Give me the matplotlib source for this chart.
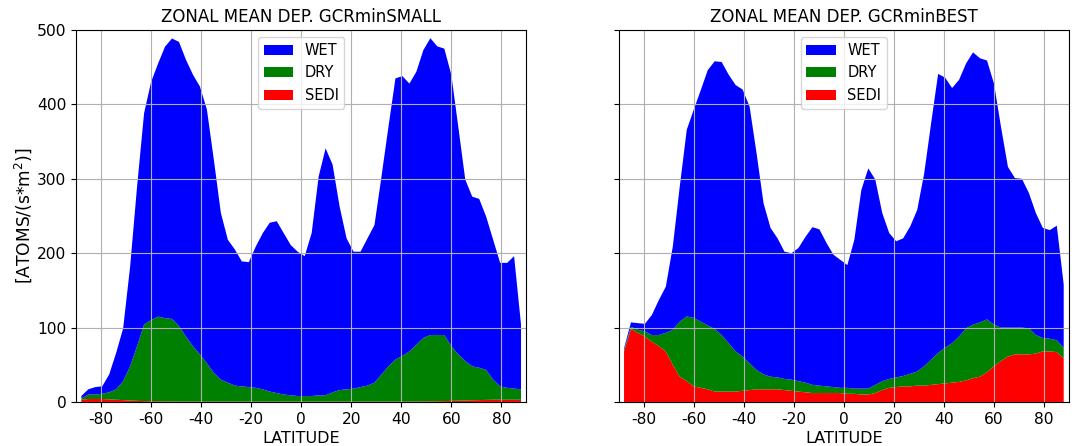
import numpy as np
import matplotlib
matplotlib.use("Agg")
import matplotlib.pyplot as plt

plt.rcParams['axes.unicode_minus'] = False

# Gaussian latitudes of a 64-point grid (south -> north)
lat = np.degrees(np.arcsin(np.polynomial.legendre.leggauss(64)[0]))

# GCRminSMALL
wet_small = [3, 7, 10, 10, 24, 49, 71, 134, 215, 284, 320, 340, 365, 377, 382, 372,
             365, 360, 341, 286, 224, 192, 183, 168, 168, 190, 210, 227, 231, 217, 202, 194,
             188, 219, 294, 332, 306, 247, 203, 184, 182, 198, 212, 266, 322, 378, 376, 360,
             367, 387, 399, 388, 385, 365, 306, 244, 228, 227, 206, 188, 166, 168, 178, 87]
dry_small = [2, 6, 6, 7, 9.5, 14, 25.5, 46, 73.5, 103, 109, 114, 112, 111, 101.5, 87.5,
             74.5, 63.5, 51.5, 38.5, 29.5, 25.5, 21.5, 20.5, 19.5, 18.5, 16.5, 13.5, 11.5, 9.5, 8.5, 7.5,
             7.5, 7.5, 8.5, 8.5, 12.5, 15.5, 16.5, 17.5, 19.5, 21.5, 25.5, 36.5, 47.5, 56.5, 61.5, 67.5,
             76.4, 85.3, 89.2, 89, 88.8, 73.5, 62.2, 53, 45.7, 43.5, 40.2, 27, 18, 16, 15, 14]
sedi_small = [3, 4, 4, 4, 3.5, 3, 2.5, 2, 1.5, 1.2, 1, 0.8, 0.7, 0.6, 0.5, 0.5,
              0.5, 0.5, 0.5, 0.5, 0.5, 0.5, 0.5, 0.5, 0.5, 0.5, 0.5, 0.5, 0.5, 0.5, 0.5, 0.5,
              0.5, 0.5, 0.5, 0.5, 0.5, 0.5, 0.5, 0.5, 0.5, 0.5, 0.5, 0.5, 0.5, 0.5, 0.5, 0.5,
              0.6, 0.7, 0.8, 1, 1.2, 1.5, 1.8, 2, 2.3, 2.5, 2.8, 3, 3, 3, 3, 3]

# GCRminBEST
wet_best = [2, 6, 9, 10, 27, 47, 62, 112, 182, 251, 280, 311, 343, 360, 367, 361,
            358, 359, 345, 291, 230, 200, 187, 171, 170, 179, 196, 212, 210, 193, 178, 172,
            165, 200, 267, 296, 276, 226, 196, 183, 185, 198, 217, 259, 318, 375, 363, 343,
            345, 356, 366, 355, 348, 324, 270, 216, 201, 200, 182, 164, 148, 146, 154, 85]
dry_best = [2, 3, 4, 7, 9, 15, 25, 47, 74, 87, 92, 89, 86, 84, 76, 65,
            54, 46, 36, 26, 20, 17, 16, 15, 15, 14, 13, 11, 10, 9, 8, 7,
            8, 7, 8, 8, 11, 12, 12, 13, 14, 17, 19, 26, 34, 42, 48, 53,
            61, 70, 72, 73, 71, 56, 45, 39, 36, 36, 35, 25, 18, 17, 16, 14]
sedi_best = [68, 98, 93, 88, 81, 75, 68, 50, 34, 28, 21, 19, 17, 14, 14, 14,
             14, 15, 16, 17, 17, 17, 17, 16, 15, 14, 13, 12, 12, 12, 12, 12,
             11, 11, 10, 10, 12, 16, 19, 20, 21, 21, 22, 22, 23, 24, 25, 26,
             27, 29, 32, 34, 40, 48, 55, 61, 64, 64, 64, 65, 68, 68, 67, 59]

runs = [("GCRminSMALL", wet_small, dry_small, sedi_small),
        ("GCRminBEST", wet_best, dry_best, sedi_best)]

fig, axes = plt.subplots(1, 2, sharey=True, figsize=(10.78, 4.46), dpi=100)
fig.subplots_adjust(left=0.0705, right=0.9917, top=0.9327, bottom=0.0987, wspace=0.205)

for ax, (name, wet, dry, sedi) in zip(axes, runs):
    polys = ax.stackplot(lat, sedi, dry, wet, colors=["red", "green", "blue"],
                         labels=["SEDI", "DRY", "WET"])
    ax.set_xlim(-90, 90)
    ax.set_ylim(0, 500)
    ax.set_xticks(np.arange(-80, 81, 20))
    ax.set_yticks(np.arange(0, 501, 100))
    ax.grid(True)
    ax.tick_params(labelsize=11.2)
    ax.set_title("ZONAL MEAN DEP. " + name, fontsize=12)
    ax.set_xlabel("LATITUDE", fontsize=11.5, labelpad=3)
    handles, labels = ax.get_legend_handles_labels()
    ax.legend(handles[::-1], labels[::-1], loc="upper center", fontsize=10.5)

axes[0].set_ylabel("[ATOMS/(s*m$^2$)]", fontsize=12.3, labelpad=2)

fig.savefig("out.png")
